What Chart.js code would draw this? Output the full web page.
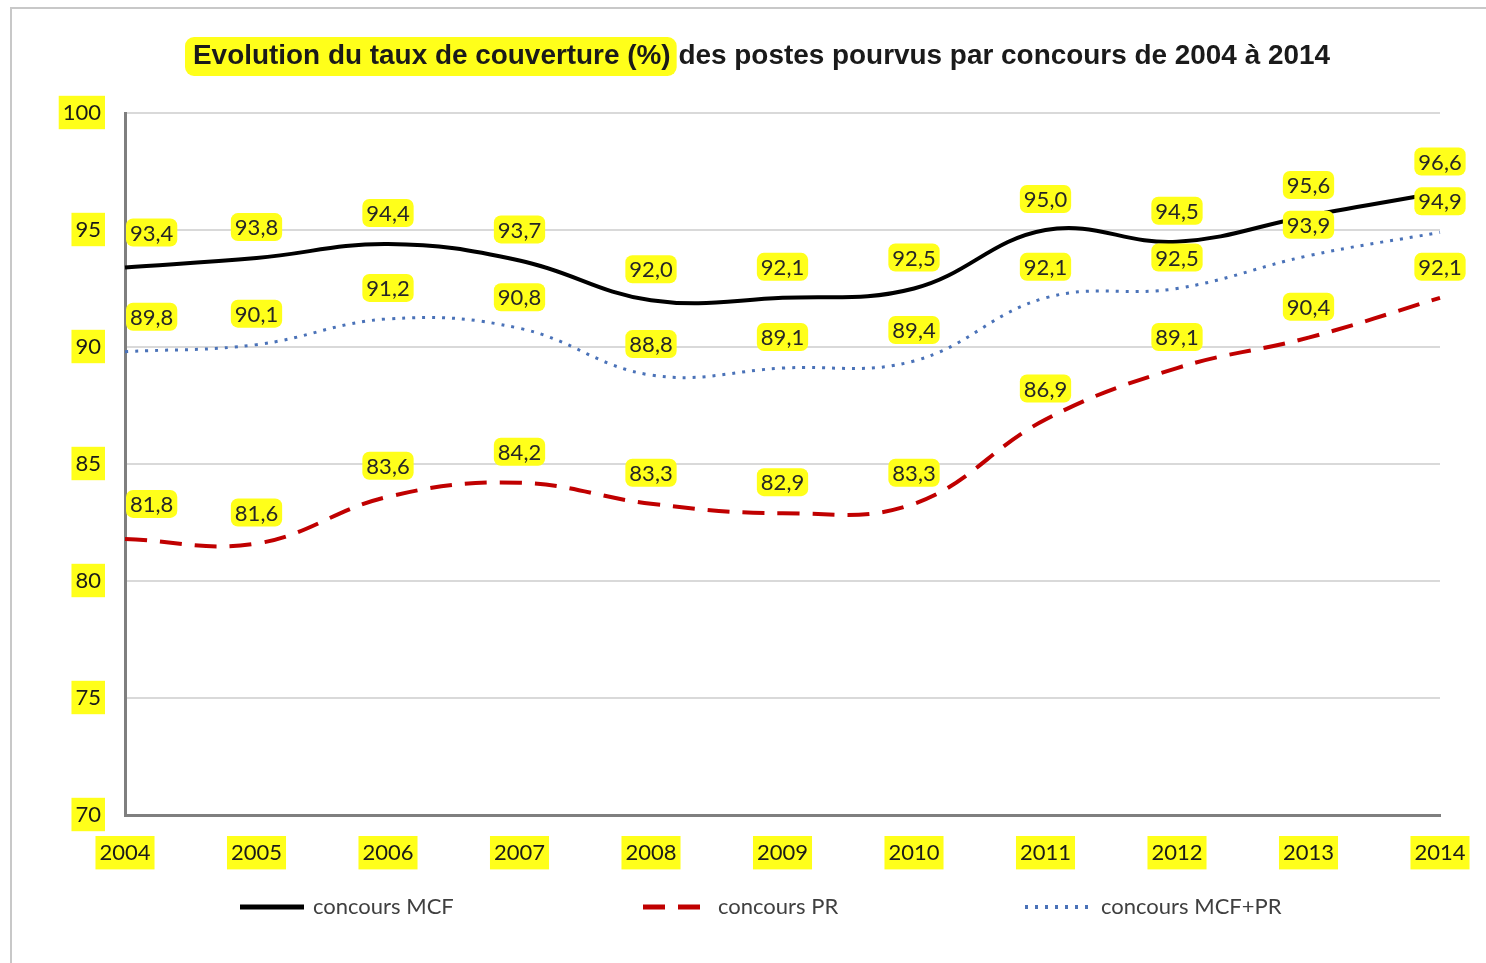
<!DOCTYPE html>
<html>
<head>
<meta charset="utf-8">
<script src="https://cdn.jsdelivr.net/npm/chart.js@4.4.0/dist/chart.umd.min.js"></script>
<style>
  html, body { margin: 0; padding: 0; background: #fff; }
  #wrap { width: 1486px; height: 963px; }
</style>
</head>
<body>
<div id="wrap"><canvas id="taux" width="1486" height="963"></canvas></div>
<script>
// donnees
const annees = ['2004', '2005', '2006', '2007', '2008', '2009', '2010', '2011', '2012', '2013', '2014'];
const concoursMCF = [93.4, 93.8, 94.4, 93.7, 92.0, 92.1, 92.5, 95.0, 94.5, 95.6, 96.6];
const concoursPR = [81.8, 81.6, 83.6, 84.2, 83.3, 82.9, 83.3, 86.9, 89.1, 90.4, 92.1];
const concoursMCFPR = [89.8, 90.1, 91.2, 90.8, 88.8, 89.1, 89.4, 92.1, 92.5, 93.9, 94.9];

const titreSurligne = 'Evolution du taux de couverture (%)';
const titreSuite = ' des postes pourvus par concours de 2004 à 2014';

const JAUNE = '#ffff1a';
const labelFont = '22px Lato, "Liberation Sans", sans-serif';

function boite(ctx, x, y, w, h, r) {
  ctx.beginPath();
  ctx.moveTo(x + r, y);
  ctx.arcTo(x + w, y, x + w, y + h, r);
  ctx.arcTo(x + w, y + h, x, y + h, r);
  ctx.arcTo(x, y + h, x, y, r);
  ctx.arcTo(x, y, x + w, y, r);
  ctx.closePath();
  ctx.fill();
}

// cadre gris autour du graphique
const cadre = {
  id: 'cadre',
  beforeDraw(chart) {
    const ctx = chart.ctx;
    ctx.save();
    ctx.fillStyle = '#fff';
    ctx.fillRect(0, 0, chart.width, chart.height);
    ctx.strokeStyle = '#c8c8c8';
    ctx.lineWidth = 2;
    ctx.beginPath();
    ctx.moveTo(11, chart.height);
    ctx.lineTo(11, 8);
    ctx.lineTo(chart.width, 8);
    ctx.stroke();
    ctx.restore();
  }
};

// titre avec la premiere partie surlignee
const titre = {
  id: 'titre',
  afterDraw(chart) {
    const ctx = chart.ctx;
    ctx.save();
    ctx.font = 'bold 28px "Liberation Sans", Arial, sans-serif';
    ctx.textBaseline = 'middle';
    const w1 = ctx.measureText(titreSurligne).width;
    const w2 = ctx.measureText(titreSuite).width;
    // un peu resserre comme dans l'original
    const k = 1137 / (w1 + w2);
    const x0 = 193;
    ctx.fillStyle = JAUNE;
    boite(ctx, x0 - 8, 37, w1 * k + 14, 39, 9);
    ctx.translate(x0, 56);
    ctx.scale(k, 1);
    ctx.fillStyle = '#1a1a1a';
    ctx.fillText(titreSurligne, 0, 0);
    ctx.fillText(titreSuite, w1, 0);
    ctx.restore();
  }
};

// etiquettes de valeurs sur fond jaune
const etiquettes = {
  id: 'etiquettes',
  afterDatasetsDraw(chart) {
    const ctx = chart.ctx;
    const area = chart.chartArea;
    ctx.save();
    ctx.font = labelFont;
    ctx.textAlign = 'center';
    ctx.textBaseline = 'middle';
    chart.data.datasets.forEach((ds, i) => {
      const meta = chart.getDatasetMeta(i);
      meta.data.forEach((pt, j) => {
        const txt = ds.data[j].toFixed(1).replace('.', ',');
        const w = ctx.measureText(txt).width + 8;
        const h = 28;
        let x = pt.x;
        let y = pt.y - 31;
        if (x - w / 2 < area.left) { x = area.left + w / 2 + 1; y -= 4; }
        ctx.fillStyle = JAUNE;
        boite(ctx, x - w / 2, y - h / 2, w, h, 7);
        ctx.fillStyle = '#262626';
        ctx.fillText(txt, x, y + 1);
      });
    });
    ctx.restore();
  }
};

// legende dessinee a la main pour garder les pointilles
const legende = {
  id: 'legende',
  afterDraw(chart) {
    const ctx = chart.ctx;
    const y = 907;
    const pos = [[240, 313], [643, 718], [1025, 1101]];
    ctx.save();
    ctx.font = labelFont;
    ctx.textBaseline = 'middle';
    chart.data.datasets.forEach((ds, i) => {
      const [x1, xt] = pos[i];
      ctx.strokeStyle = ds.borderColor;
      ctx.lineWidth = ds.borderWidth + 1;
      ctx.setLineDash(ds.borderDash || []);
      ctx.beginPath();
      ctx.moveTo(x1, y);
      ctx.lineTo(x1 + 64, y);
      ctx.stroke();
      ctx.setLineDash([]);
      ctx.fillStyle = '#404040';
      ctx.fillText(ds.label, xt, y);
    });
    ctx.restore();
  }
};

const data = {
  labels: annees,
  datasets: [
    {
      label: 'concours MCF',
      data: concoursMCF,
      borderColor: '#000000',
      borderWidth: 4,
      tension: 0.4,
      pointRadius: 0
    },
    {
      label: 'concours PR',
      data: concoursPR,
      borderColor: '#c00000',
      borderWidth: 4,
      borderDash: [22, 13],
      tension: 0.4,
      pointRadius: 0
    },
    {
      label: 'concours MCF+PR',
      data: concoursMCFPR,
      borderColor: '#4a72b8',
      borderWidth: 3,
      borderDash: [3, 7],
      tension: 0.4,
      pointRadius: 0
    }
  ]
};

const tickFont = { family: 'Lato, "Liberation Sans", sans-serif', size: 22 };

const config = {
  type: 'line',
  data: data,
  options: {
    responsive: false,
    animation: false,
    layout: { padding: { left: 0, right: 46, top: 113, bottom: 0 } },
    plugins: {
      legend: { display: false },
      title: { display: false },
      tooltip: { enabled: false }
    },
    scales: {
      x: {
        grid: { display: false },
        border: { display: true, color: '#7f7f7f', width: 3 },
        ticks: {
          color: '#1a1a1a',
          font: tickFont,
          padding: 17,
          maxRotation: 0,
          showLabelBackdrop: true,
          backdropColor: JAUNE,
          backdropPadding: { left: 4, right: 4, top: 4, bottom: 3 }
        },
        afterFit(scale) { scale.height = 148; }
      },
      y: {
        min: 70,
        max: 100,
        grid: { color: '#d9d9d9', lineWidth: 2, drawTicks: false },
        border: { display: true, color: '#7f7f7f', width: 3 },
        ticks: {
          stepSize: 5,
          color: '#1a1a1a',
          font: tickFont,
          padding: 24,
          showLabelBackdrop: true,
          backdropColor: JAUNE,
          backdropPadding: { left: 4, right: 4, top: 4, bottom: 3 }
        },
        afterFit(scale) { scale.width = 125; }
      }
    }
  },
  plugins: [cadre, etiquettes, titre, legende]
};

const graphique = new Chart(document.getElementById('taux'), config);
</script>
</body>
</html>
